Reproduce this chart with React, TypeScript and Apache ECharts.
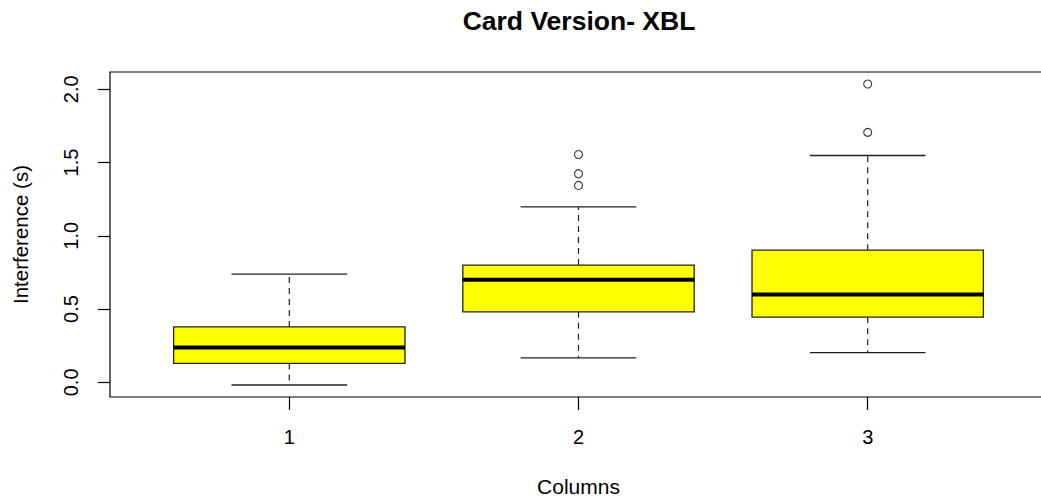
import React, { useEffect, useRef } from "react";
import * as echarts from "echarts";

const categories = [1, 2, 3];
const lowerWhisker = [-0.018, 0.167, 0.203];
const q1 = [0.129, 0.481, 0.445];
const median = [0.237, 0.7, 0.599];
const q3 = [0.378, 0.8, 0.902];
const upperWhisker = [0.739, 1.198, 1.548];
const outlierGroup = [2, 2, 2, 3, 3];
const outlierValues = [1.555, 1.424, 1.344, 2.036, 1.706];
const yTicks = [0, 0.5, 1, 1.5, 2];

const FONT = "'Liberation Sans', Arial, sans-serif";
const BOX_HALF = 0.4;
const CAP_HALF = 0.2;

export default function App() {
  const ref = useRef<HTMLDivElement>(null);
  useEffect(() => {
    if (!ref.current) return;
    const chart = echarts.init(ref.current, null, { renderer: "svg" });
    const boxData = categories.map((c, i) => [
      c,
      lowerWhisker[i],
      q1[i],
      median[i],
      q3[i],
      upperWhisker[i],
    ]);
    const outData = outlierGroup.map((g, i) => [g, outlierValues[i]]);
    const option: any = {
      animation: false,
      backgroundColor: "#fff",
      title: {
        text: "Card Version- XBL",
        left: 574,
        top: 2,
        textAlign: "center",
        textStyle: { fontFamily: FONT, fontSize: 26.5, fontWeight: "bold", color: "#000" },
      },
      grid: {
        left: 110,
        right: 13,
        top: 72,
        bottom: 102,
        show: true,
        borderColor: "#000",
        borderWidth: 1.2,
        backgroundColor: "transparent",
      },
      xAxis: {
        type: "value",
        min: 0.38,
        max: 3.62,
        name: "Columns",
        nameLocation: "middle",
        nameGap: 79,
        nameTextStyle: { fontFamily: FONT, fontSize: 21, color: "#000" },
        axisLine: { show: false, onZero: false },
        splitLine: { show: false },
        axisTick: {
          show: true,
          inside: false,
          length: 13,
          customValues: categories,
          lineStyle: { color: "#000", width: 1.2 },
        },
        axisLabel: {
          customValues: categories,
          margin: 30,
          fontFamily: FONT,
          fontSize: 20,
          color: "#000",
          formatter: (v: number) => String(v),
        },
      },
      yAxis: {
        type: "value",
        min: -0.1,
        max: 2.118,
        name: "Interference (s)",
        nameLocation: "middle",
        nameRotate: 90,
        nameGap: 79,
        nameTextStyle: { fontFamily: FONT, fontSize: 20.5, color: "#000" },
        axisLine: { show: false, onZero: false },
        splitLine: { show: false },
        axisTick: {
          show: true,
          inside: false,
          length: 12,
          customValues: yTicks,
          lineStyle: { color: "#000", width: 1.2 },
        },
        axisLabel: {
          customValues: yTicks,
          rotate: 90,
          margin: 29,
          fontFamily: FONT,
          fontSize: 20,
          color: "#000",
          formatter: (v: number) => v.toFixed(1),
        },
      },
      series: [
        {
          type: "custom",
          data: boxData,
          encode: { x: 0, y: [1, 2, 3, 4, 5] },
          renderItem: (params: any, api: any) => {
            const x = api.value(0);
            const lo = api.value(1);
            const a = api.value(2);
            const m = api.value(3);
            const b = api.value(4);
            const hi = api.value(5);
            const tl = api.coord([x - BOX_HALF, b]);
            const br = api.coord([x + BOX_HALF, a]);
            const mL = api.coord([x - BOX_HALF, m]);
            const mR = api.coord([x + BOX_HALF, m]);
            const cHi = api.coord([x, hi]);
            const cLo = api.coord([x, lo]);
            const cQ3 = api.coord([x, b]);
            const cQ1 = api.coord([x, a]);
            const capL = api.coord([x - CAP_HALF, hi])[0];
            const capR = api.coord([x + CAP_HALF, hi])[0];
            const dashStyle = { stroke: "#222", lineWidth: 1.2, lineDash: [6, 5] };
            const solid = { stroke: "#222", lineWidth: 1.3 };
            return {
              type: "group",
              children: [
                { type: "line", shape: { x1: cQ3[0], y1: cQ3[1], x2: cHi[0], y2: cHi[1] }, style: dashStyle },
                { type: "line", shape: { x1: cQ1[0], y1: cQ1[1], x2: cLo[0], y2: cLo[1] }, style: dashStyle },
                { type: "line", shape: { x1: capL, y1: cHi[1], x2: capR, y2: cHi[1] }, style: solid },
                { type: "line", shape: { x1: capL, y1: cLo[1], x2: capR, y2: cLo[1] }, style: solid },
                {
                  type: "rect",
                  shape: { x: tl[0], y: tl[1], width: br[0] - tl[0], height: br[1] - tl[1] },
                  style: { fill: "#ffff00", stroke: "#222", lineWidth: 1.3 },
                },
                { type: "line", shape: { x1: mL[0], y1: mL[1], x2: mR[0], y2: mR[1] }, style: { stroke: "#000", lineWidth: 4 } },
              ],
            };
          },
        },
        {
          type: "scatter",
          data: outData,
          symbol: "circle",
          symbolSize: 8,
          itemStyle: { color: "#fff", borderColor: "#000", borderWidth: 1.1 },
        },
      ],
    };
    chart.setOption(option);
    return () => chart.dispose();
  }, []);
  return (
    <div
      style={{ position: "fixed", left: 0, top: 0, width: 1041, height: 502, overflow: "hidden", background: "#fff" }}
    >
      <div ref={ref} style={{ position: "absolute", left: 0, top: 0, width: 1060, height: 502 }} />
    </div>
  );
}
